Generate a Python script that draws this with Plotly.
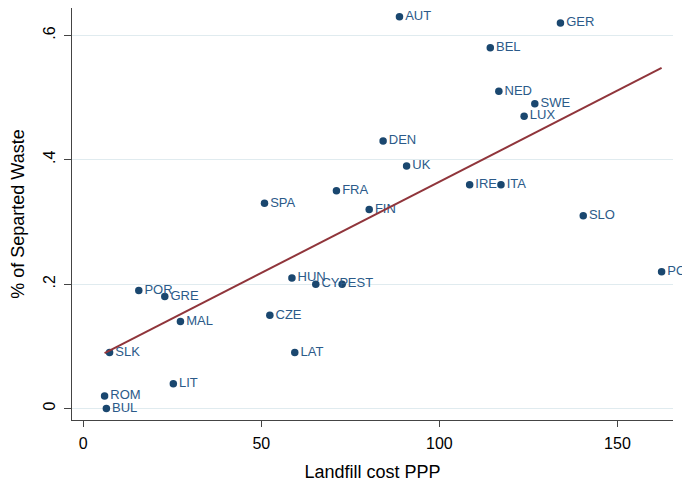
import numpy as np
import plotly.graph_objects as go

countries = ["AUT", "GER", "BEL", "NED", "SWE", "LUX", "DEN", "UK", "IRE", "ITA",
             "FIN", "SLO", "SPA", "FRA", "PO", "HUN", "CYP", "EST", "POR", "GRE",
             "CZE", "MAL", "SLK", "LAT", "LIT", "ROM", "BUL"]
landfill_cost = [88.8, 134.0, 114.3, 116.7, 126.8, 123.8, 84.2, 90.8, 108.5, 117.3,
                 80.3, 140.4, 50.9, 71.1, 162.4, 58.6, 65.3, 72.7, 15.6, 22.9,
                 52.4, 27.3, 7.4, 59.4, 25.3, 6.0, 6.5]
separated_waste = [0.63, 0.62, 0.58, 0.51, 0.49, 0.47, 0.43, 0.39, 0.36, 0.36,
                   0.32, 0.31, 0.33, 0.35, 0.22, 0.21, 0.20, 0.20, 0.19, 0.18,
                   0.15, 0.14, 0.09, 0.09, 0.04, 0.02, 0.00]

x_ticks = [0, 50, 100, 150]
y_ticks = [0, 0.2, 0.4, 0.6]
y_ticklabels = ["0", ".2", ".4", ".6"]

x = np.array(landfill_cost)
y = np.array(separated_waste)
slope, intercept = np.polyfit(x, y, 1)
fit_x = np.array([x.min(), x.max()])
fit_y = intercept + slope * fit_x

FONT = "Liberation Sans, Arial, sans-serif"

fig = go.Figure()
fig.add_trace(go.Scatter(
    x=landfill_cost, y=separated_waste, mode="markers+text",
    text=countries, textposition="middle right",
    textfont=dict(family=FONT, size=13, color="#2b5a89"),
    marker=dict(size=7.5, color="#1a476f"),
    cliponaxis=False, showlegend=False,
))
fig.add_trace(go.Scatter(
    x=fit_x, y=fit_y, mode="lines",
    line=dict(color="#90353b", width=2),
    showlegend=False,
))

fig.update_layout(
    width=682, height=474,
    margin=dict(l=60, r=17, t=0, b=60),
    paper_bgcolor="white", plot_bgcolor="white",
    font=dict(family=FONT, color="black"),
)
fig.update_xaxes(
    range=[-3.15, 165.6], tickvals=x_ticks,
    showgrid=False, zeroline=False,
    showline=True, linecolor="#444", linewidth=1.2,
    ticks="outside", ticklen=6, tickcolor="#444",
    ticklabelstandoff=3,
    tickfont=dict(family=FONT, size=16),
    title=dict(text="Landfill cost PPP", font=dict(family=FONT, size=18), standoff=17),
)
fig.update_yaxes(
    range=[-0.0184, 0.644], tickvals=y_ticks, ticktext=y_ticklabels,
    tickangle=-90,
    showgrid=True, gridcolor="#e0ebef", gridwidth=1, zeroline=False,
    showline=True, linecolor="#444", linewidth=1.2,
    ticks="outside", ticklen=7, tickcolor="#444",
    ticklabelstandoff=3,
    tickfont=dict(family=FONT, size=16),
    title=dict(text="% of Separted Waste", font=dict(family=FONT, size=18), standoff=20),
)

fig.write_html("out.html")
